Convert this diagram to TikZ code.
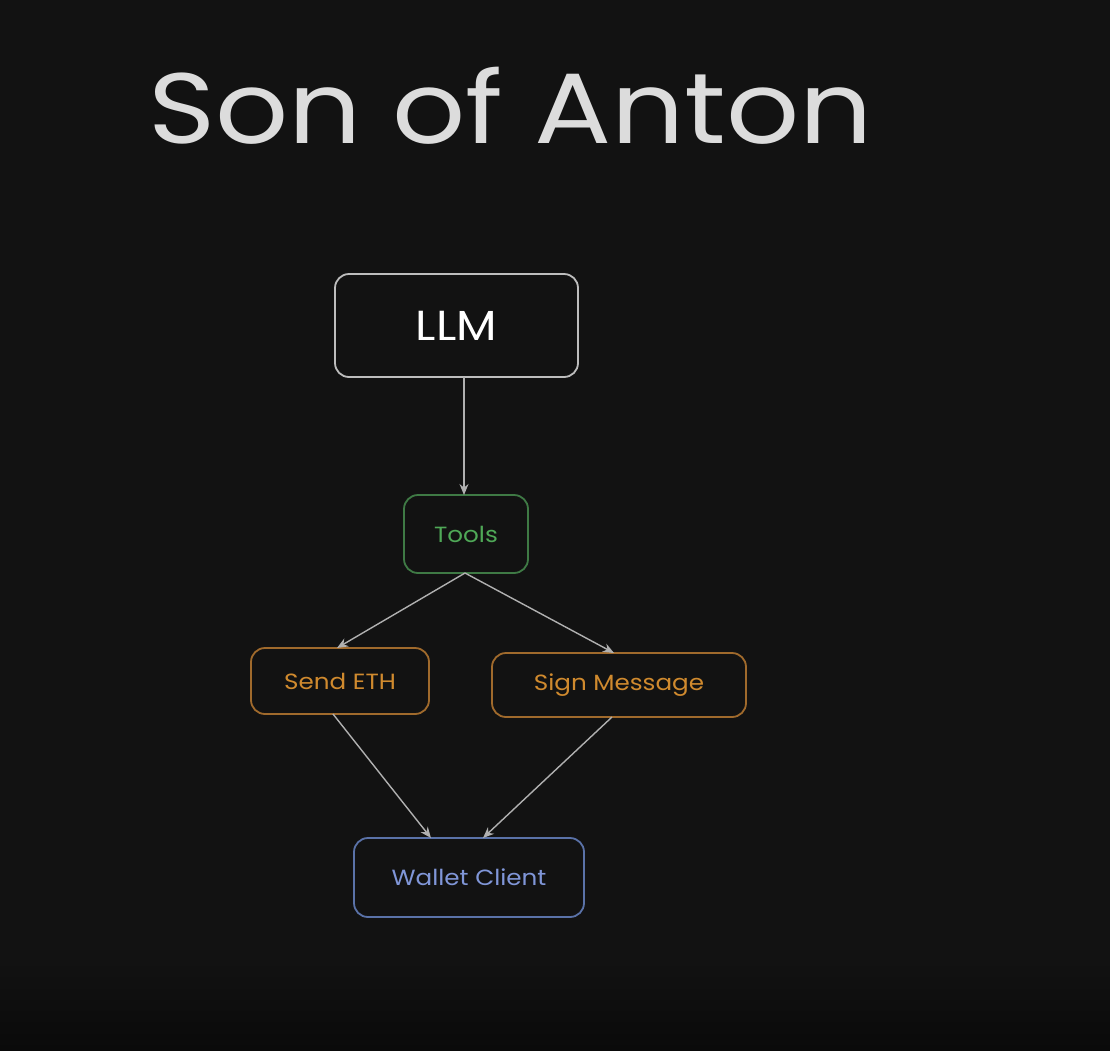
\documentclass[tikz,border=0pt]{standalone}
\usepackage{fontspec}
\setmainfont{Poppins}
\usetikzlibrary{calc,arrows.meta}
\definecolor{bg}{HTML}{121212}
\definecolor{bgdark}{HTML}{0A0A0A}
\definecolor{titlec}{HTML}{DCDCDC}
\definecolor{llmline}{HTML}{BDBDBD}
\definecolor{greenline}{HTML}{3F7A45}
\definecolor{greentext}{HTML}{4FA857}
\definecolor{orangeline}{HTML}{A06A2C}
\definecolor{orangetext}{HTML}{D08A2E}
\definecolor{blueline}{HTML}{5A72A8}
\definecolor{bluetext}{HTML}{8096D8}
\definecolor{arrowc}{HTML}{B0B0B0}
\newcommand{\wide}[1]{\scalebox{1.12}[1]{#1}}
\tikzset{
  box/.style={draw, line width=1.8pt, rounded corners=14pt, inner sep=0pt, outer sep=0pt, fill=bg},
  conn/.style={draw=arrowc, line width=1.4pt, -{Stealth[length=11pt,width=9pt]}},
}
\begin{document}
\begin{tikzpicture}[x=1pt,y=-1pt]
\useasboundingbox (0,0) rectangle (1110,1050);
\fill[bg] (0,0) rectangle (1110,1050);
\shade[top color=bg, bottom color=bgdark] (0,960) rectangle (1110,1050);
\node[anchor=base west, text=titlec, font=\fontsize{100}{100}\selectfont, inner sep=0pt] (title) at (148,143) {\scalebox{1.145}[1]{Son of Anton}};
\node[box, draw=llmline, minimum width=243pt, minimum height=103pt, text=white, font=\fontsize{42}{42}\selectfont] (llm) at (456.5,325.5) {\wide{LLM}};
\node[box, draw=greenline, minimum width=124pt, minimum height=78pt, text=greentext, font=\fontsize{22}{22}\selectfont] (tools) at (466,534) {\wide{Tools}};
\node[box, draw=orangeline, minimum width=178pt, minimum height=66pt, text=orangetext, font=\fontsize{22}{22}\selectfont] (send) at (340,681) {\wide{Send ETH}};
\node[box, draw=orangeline, minimum width=254pt, minimum height=64pt, text=orangetext, font=\fontsize{22}{22}\selectfont] (sign) at (619,685) {\wide{Sign Message}};
\node[box, draw=blueline, minimum width=230pt, minimum height=79pt, text=bluetext, font=\fontsize{22}{22}\selectfont] (wallet) at (469,877.5) {\wide{Wallet Client}};
\draw[conn] ($(tools.north |- llm.south)+(-2,0)$) -- ($(tools.north)+(-2,0)$);
\draw[conn] ($(tools.south)+(-1,0)$) -- ($(send.north)+(-3,0)$);
\draw[conn] ($(tools.south)+(-1,0)$) -- ($(sign.north)+(-5,0)$);
\draw[conn] ($(send.south)+(-7,0)$) -- ($(wallet.north)+(-38,0)$);
\draw[conn] ($(sign.south)+(-7,0)$) -- ($(wallet.north)+(14,0)$);
\end{tikzpicture}
\end{document}
